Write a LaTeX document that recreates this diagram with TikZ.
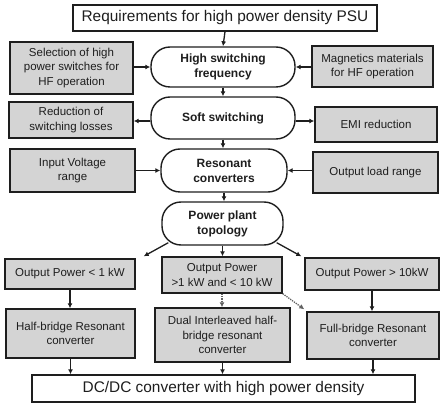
\documentclass[tikz,border=0pt]{standalone}
\usepackage{fontspec}
\setmainfont{Liberation Sans}
\usetikzlibrary{arrows.meta,calc}
\definecolor{boxgray}{RGB}{212,212,212}
\definecolor{ink}{RGB}{30,30,30}
\tikzset{
  base/.style={draw=ink, line width=1.4pt, align=center, inner sep=1pt, text=ink},
  graybox/.style={base, fill=boxgray, font=\fontsize{11.5}{14.5}\selectfont},
  whitebox/.style={base, fill=white, font=\fontsize{15.4}{18}\selectfont},
  pill/.style={base, fill=white, rounded corners=19pt, font=\bfseries\fontsize{12}{15}\selectfont},
  arr/.style={draw=ink, line width=1.3pt, -{Latex[length=5pt,width=5pt]}},
  dotarr/.style={draw=ink!70, line width=1.3pt, densely dotted, -{Latex[length=5pt,width=5pt]}}
}
\begin{document}
\begin{tikzpicture}[x=1pt,y=-1pt]
\useasboundingbox (0,0) rectangle (442,403);
% top
\node[whitebox, minimum width=304pt, minimum height=26pt] (top) at (225,18) {Requirements for high power density PSU};
% row: high switching frequency
\node[pill, minimum width=144pt, minimum height=40pt] (hsf) at (223,67) {High switching\\frequency};
\node[graybox, minimum width=123pt, minimum height=52pt] (sel) at (71.5,68) {Selection of high\\power switches for\\HF operation};
\node[graybox, minimum width=121pt, minimum height=41pt] (mag) at (372.5,66.5) {Magnetics materials\\for HF operation};
% soft switching
\node[pill, minimum width=144pt, minimum height=42pt] (soft) at (223,118) {Soft switching};
\node[graybox, minimum width=124pt, minimum height=36pt] (red) at (71,120) {Reduction of\\switching losses};
\node[graybox, minimum width=122pt, minimum height=35pt] (emi) at (376,124.5) {EMI reduction};
% resonant converters
\node[pill, minimum width=126pt, minimum height=43pt] (res) at (224,170.5) {Resonant\\converters};
\node[graybox, minimum width=125pt, minimum height=43pt] (inp) at (72.5,170.5) {Input Voltage\\range};
\node[graybox, minimum width=125pt, minimum height=41pt] (out) at (375.5,172.5) {Output load range};
% power plant topology
\node[pill, minimum width=121pt, minimum height=43pt] (ppt) at (222.5,223.5) {Power plant\\topology};
% output power row
\node[graybox, minimum width=130pt, minimum height=30pt] (p1) at (70,274) {Output Power < 1 kW};
\node[graybox, minimum width=120pt, minimum height=36pt] (p2) at (222,275) {Output Power\\>1 kW and < 10 kW};
\node[graybox, minimum width=134pt, minimum height=32pt] (p3) at (372,274) {Output Power > 10kW};
% converter row
\node[graybox, minimum width=129pt, minimum height=49pt] (hb) at (70.5,333.5) {Half-bridge Resonant\\converter};
\node[graybox, minimum width=135pt, minimum height=54pt] (di) at (222.5,335) {Dual Interleaved half-\\bridge resonant\\converter};
\node[graybox, minimum width=132pt, minimum height=47pt] (fb) at (373,335.5) {Full-bridge Resonant\\converter};
% bottom
\node[whitebox, minimum width=383pt, minimum height=27pt] (dc) at (223.5,388.5) {DC/DC converter with high power density};

% connectors
\draw[arr] (top.south) -- (hsf.north);
\draw[arr] (sel.east |- hsf.west) -- (hsf.west);
\draw[arr] (mag.west |- hsf.east) -- (hsf.east);
\draw[arr] (hsf.south) -- (soft.north);
\draw[arr] ([yshift=-3pt]soft.west) -- ([yshift=-3pt]soft.west -| red.east);
\draw[arr] ([yshift=-3pt]soft.east) -- ([yshift=-3pt]soft.east -| emi.west);
\draw[arr] (soft.south) -- (soft.south |- res.north);
\draw[arr] (inp.east |- res.west) -- (res.west);
\draw[arr] (out.west |- res.east) -- (res.east);
\draw[arr] (res.south) -- (res.south |- ppt.north);
\draw[arr] ([xshift=7pt,yshift=3pt]ppt.south west) -- ([xshift=8pt,yshift=2pt]p1.north east);
\draw[arr] (ppt.south) -- (ppt.south |- p2.north);
\draw[arr] ([xshift=-7pt,yshift=3pt]ppt.south east) -- ([xshift=-3pt,yshift=1pt]p3.north west);
\draw[arr] (p1.south) -- (p1.south |- hb.north);
\draw[dotarr] (p2.south) -- (p2.south |- di.north);
\draw[dotarr] (p2.south east) -- ([xshift=-2pt,yshift=2pt]fb.north west);
\draw[arr] (p3.south) -- (p3.south |- fb.north);
\draw[arr] (hb.south) -- (hb.south |- dc.north);
\draw[arr] (di.south) -- (di.south |- dc.north);
\draw[arr] (fb.south) -- (fb.south |- dc.north);
\end{tikzpicture}
\end{document}
